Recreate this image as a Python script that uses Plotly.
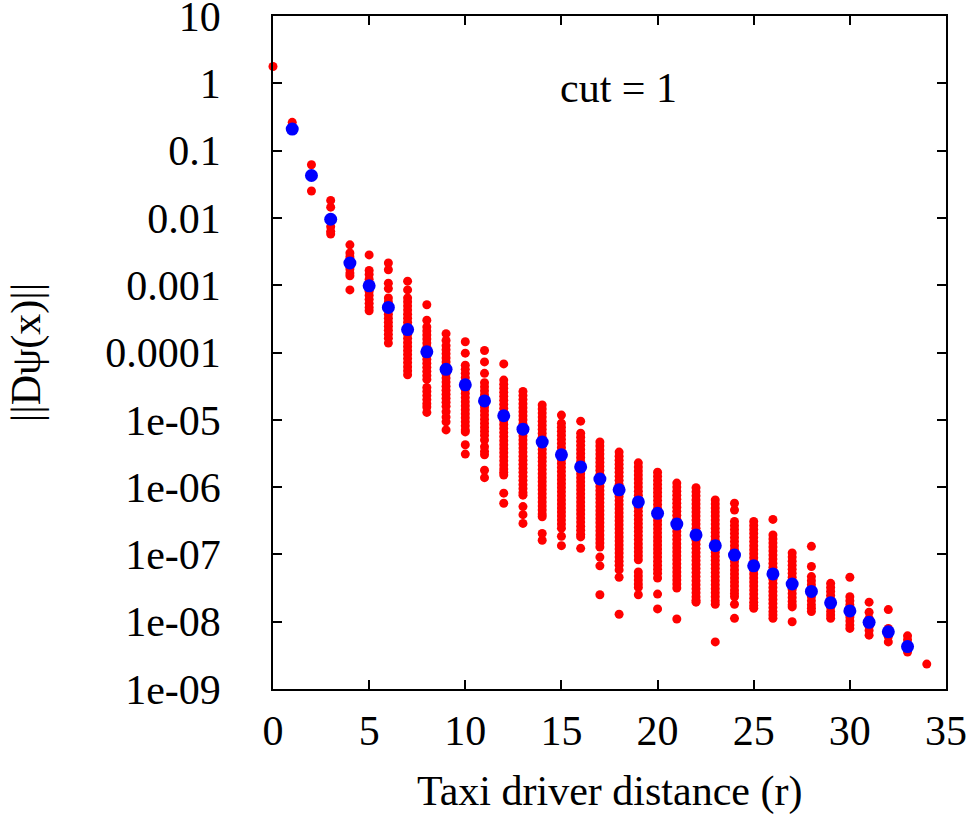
import plotly.graph_objects as go

# Per-distance samples of log10 ||Dpsi(x)|| (red points), one list per distance r
red_r00 = [0.25]
red_r01 = [-0.58, -0.68]
red_r02 = [-1.21, -1.37, -1.60]
red_r03 = [-1.74, -1.84, -2.02, -2.13, -2.20, -2.24]
red_r04 = [-2.40, -2.52, -2.58, -2.64, -2.70, -2.76, -2.82, -2.86, -3.07]
red_r05 = [-2.55, -2.78, -2.84, -2.91, -2.97, -3.03, -3.09, -3.15, -3.21, -3.27, -3.33, -3.38]
red_r06 = [-2.67, -2.77, -2.97, -3.05, -3.19, -3.25, -3.31, -3.37, -3.43, -3.49, -3.55, -3.61,
           -3.67, -3.73, -3.79, -3.86]
red_r07 = [-2.94, -3.07, -3.19, -3.25, -3.31, -3.37, -3.43, -3.49, -3.55, -3.61, -3.67, -3.73,
           -3.79, -3.85, -3.91, -3.97, -4.03, -4.09, -4.15, -4.21, -4.27, -4.33]
red_r08 = [-3.29, -3.52, -3.62, -3.68, -3.74, -3.80, -3.86, -3.92, -3.98, -4.04, -4.10, -4.16,
           -4.22, -4.28, -4.34, -4.40, -4.52, -4.58, -4.64, -4.70, -4.76, -4.81, -4.89]
red_r09 = [-3.72, -3.82, -3.90, -3.96, -4.02, -4.08, -4.14, -4.20, -4.26, -4.32, -4.38, -4.44,
           -4.50, -4.56, -4.62, -4.68, -4.74, -4.80, -4.88, -4.96, -5.03, -5.15]
red_r10 = [-3.84, -4.01, -4.19, -4.25, -4.31, -4.37, -4.43, -4.49, -4.55, -4.61, -4.67, -4.73,
           -4.79, -4.85, -4.91, -4.97, -5.03, -5.09, -5.15, -5.18, -5.37, -5.51]
red_r11 = [-3.97, -4.14, -4.31, -4.45, -4.51, -4.57, -4.63, -4.69, -4.75, -4.81, -4.87, -4.93,
           -4.99, -5.05, -5.11, -5.17, -5.23, -5.30, -5.40, -5.47, -5.52, -5.75, -5.86]
red_r12 = [-4.17, -4.41, -4.47, -4.53, -4.59, -4.65, -4.71, -4.77, -4.83, -4.89, -4.95, -5.01,
           -5.07, -5.13, -5.19, -5.25, -5.31, -5.37, -5.43, -5.49, -5.55, -5.61, -5.67, -5.73,
           -5.78, -5.82, -6.09, -6.24]
red_r13 = [-4.58, -4.64, -4.70, -4.76, -4.82, -4.88, -4.94, -5.00, -5.06, -5.12, -5.18, -5.24,
           -5.30, -5.36, -5.42, -5.48, -5.54, -5.60, -5.66, -5.72, -5.78, -5.84, -5.90, -5.96,
           -6.02, -6.08, -6.12, -6.29, -6.41, -6.54]
red_r14 = [-4.78, -4.84, -4.90, -4.96, -5.02, -5.08, -5.14, -5.20, -5.26, -5.32, -5.38, -5.44,
           -5.50, -5.56, -5.62, -5.68, -5.74, -5.80, -5.86, -5.92, -5.98, -6.04, -6.10, -6.16,
           -6.22, -6.28, -6.34, -6.40, -6.44, -6.69, -6.79]
red_r15 = [-4.93, -5.05, -5.11, -5.17, -5.23, -5.29, -5.35, -5.41, -5.47, -5.53, -5.59, -5.65,
           -5.71, -5.77, -5.83, -5.89, -5.95, -6.01, -6.07, -6.13, -6.19, -6.25, -6.31, -6.37,
           -6.43, -6.49, -6.55, -6.61, -6.73, -6.87]
red_r16 = [-5.02, -5.20, -5.26, -5.32, -5.38, -5.44, -5.50, -5.56, -5.62, -5.68, -5.74, -5.80,
           -5.86, -5.92, -5.98, -6.04, -6.10, -6.16, -6.22, -6.28, -6.34, -6.40, -6.46, -6.52,
           -6.58, -6.64, -6.70, -6.74, -6.91]
red_r17 = [-5.33, -5.39, -5.45, -5.51, -5.57, -5.63, -5.69, -5.75, -5.81, -5.87, -5.93, -5.99,
           -6.05, -6.11, -6.17, -6.23, -6.29, -6.35, -6.41, -6.47, -6.53, -6.59, -6.65, -6.71,
           -6.77, -6.83, -6.89, -7.04, -7.17, -7.60]
red_r18 = [-5.48, -5.54, -5.60, -5.66, -5.72, -5.78, -5.84, -5.90, -5.96, -6.02, -6.08, -6.14,
           -6.20, -6.26, -6.32, -6.38, -6.44, -6.50, -6.56, -6.62, -6.68, -6.74, -6.80, -6.86,
           -6.92, -6.98, -7.04, -7.10, -7.16, -7.23, -7.34, -7.89]
red_r19 = [-5.64, -5.70, -5.76, -5.82, -5.88, -5.94, -6.00, -6.06, -6.12, -6.18, -6.24, -6.30,
           -6.36, -6.42, -6.48, -6.54, -6.60, -6.66, -6.72, -6.78, -6.84, -6.90, -6.96, -7.02,
           -7.08, -7.26, -7.32, -7.38, -7.44, -7.49, -7.60]
red_r20 = [-5.78, -5.84, -5.90, -5.96, -6.02, -6.08, -6.14, -6.20, -6.26, -6.32, -6.38, -6.44,
           -6.50, -6.56, -6.62, -6.68, -6.74, -6.80, -6.86, -6.92, -6.98, -7.04, -7.10, -7.16,
           -7.22, -7.28, -7.35, -7.59, -7.81]
red_r21 = [-5.94, -6.00, -6.06, -6.12, -6.18, -6.24, -6.30, -6.36, -6.42, -6.48, -6.54, -6.60,
           -6.66, -6.72, -6.78, -6.84, -6.90, -6.96, -7.02, -7.08, -7.14, -7.20, -7.26, -7.32,
           -7.38, -7.44, -7.50, -7.96]
red_r22 = [-6.01, -6.07, -6.13, -6.19, -6.25, -6.31, -6.37, -6.43, -6.49, -6.55, -6.61, -6.67,
           -6.73, -6.79, -6.85, -6.91, -6.97, -7.03, -7.09, -7.15, -7.21, -7.27, -7.33, -7.39,
           -7.45, -7.51, -7.57, -7.63, -7.68, -7.71]
red_r23 = [-6.19, -6.25, -6.31, -6.37, -6.43, -6.49, -6.55, -6.61, -6.67, -6.73, -6.79, -6.85,
           -6.91, -6.97, -7.03, -7.09, -7.15, -7.21, -7.27, -7.33, -7.39, -7.45, -7.51, -7.57,
           -7.63, -7.69, -7.74, -8.30]
red_r24 = [-6.24, -6.34, -6.51, -6.57, -6.63, -6.69, -6.75, -6.81, -6.87, -6.93, -6.99, -7.05,
           -7.11, -7.17, -7.23, -7.29, -7.35, -7.41, -7.47, -7.53, -7.58, -7.63, -7.74, -7.95]
red_r25 = [-6.51, -6.57, -6.63, -6.69, -6.75, -6.81, -6.87, -6.93, -6.99, -7.05, -7.11, -7.17,
           -7.23, -7.29, -7.35, -7.41, -7.47, -7.53, -7.59, -7.65, -7.71, -7.76, -7.80]
red_r26 = [-6.48, -6.71, -6.77, -6.83, -6.89, -6.95, -7.01, -7.07, -7.13, -7.19, -7.25, -7.31,
           -7.37, -7.43, -7.49, -7.55, -7.61, -7.67, -7.73, -7.79, -7.85, -7.90, -7.95]
red_r27 = [-6.98, -7.04, -7.10, -7.16, -7.22, -7.28, -7.34, -7.40, -7.46, -7.52, -7.58, -7.64,
           -7.70, -7.75, -7.78, -8.00]
red_r28 = [-6.88, -7.18, -7.33, -7.39, -7.45, -7.51, -7.57, -7.63, -7.69, -7.75, -7.80, -7.85]
red_r29 = [-7.43, -7.49, -7.55, -7.61, -7.67, -7.73, -7.79, -7.85, -7.90, -7.95]
red_r30 = [-7.34, -7.63, -7.69, -7.75, -7.81, -7.87, -7.93, -7.99, -8.05, -8.10]
red_r31 = [-7.71, -7.86, -7.95, -8.01, -8.07, -8.13, -8.20]
red_r32 = [-7.82, -8.10, -8.16, -8.22, -8.30]
red_r33 = [-8.21, -8.27, -8.33, -8.39, -8.45]
red_r34 = [-8.63]

red_columns = [
    red_r00, red_r01, red_r02, red_r03, red_r04, red_r05, red_r06, red_r07, red_r08,
    red_r09, red_r10, red_r11, red_r12, red_r13, red_r14, red_r15, red_r16, red_r17,
    red_r18, red_r19, red_r20, red_r21, red_r22, red_r23, red_r24, red_r25, red_r26,
    red_r27, red_r28, red_r29, red_r30, red_r31, red_r32, red_r33, red_r34,
]

# Average per distance (blue points), log10 values
mean_r = list(range(1, 34))
mean_log = [-0.68, -1.37, -2.02, -2.67, -3.01, -3.33, -3.66, -3.99, -4.25, -4.48,
            -4.72, -4.94, -5.14, -5.33, -5.52, -5.70, -5.88, -6.04, -6.22, -6.39,
            -6.55, -6.71, -6.87, -7.01, -7.17, -7.29, -7.44, -7.55, -7.72, -7.84,
            -8.01, -8.15, -8.37]

# Axis ticks
x_ticks = [0, 5, 10, 15, 20, 25, 30, 35]
y_tick_vals = [10, 1, 0.1, 0.01, 0.001, 0.0001, 1e-5, 1e-6, 1e-7, 1e-8, 1e-9]
y_tick_text = ["10", "1", "0.1", "0.01", "0.001", "0.0001",
               "1e-05", "1e-06", "1e-07", "1e-08", "1e-09"]

red_x, red_y = [], []
for r, col in enumerate(red_columns):
    for e in col:
        red_x.append(r)
        red_y.append(10 ** e)

FONT = "Liberation Serif, Times New Roman, serif"
FS = 42

fig = go.Figure()
fig.add_trace(go.Scatter(
    x=red_x, y=red_y, mode="markers",
    marker=dict(color="rgb(255,0,0)", size=9, line=dict(width=0)),
    cliponaxis=False, showlegend=False, hoverinfo="x+y",
))
fig.add_trace(go.Scatter(
    x=mean_r, y=[10 ** e for e in mean_log], mode="markers",
    marker=dict(color="rgb(0,0,255)", size=13, line=dict(width=0)),
    cliponaxis=False, showlegend=False, hoverinfo="x+y",
))

axis_common = dict(
    showline=True, linecolor="black", linewidth=1.5, mirror="ticks",
    ticks="inside", ticklen=9, tickwidth=1.5, tickcolor="black",
    showgrid=False, zeroline=False, ticklabeloverflow="allow", automargin=False,
    tickfont=dict(family=FONT, size=FS, color="black"),
)

fig.update_xaxes(range=[0, 35], tickvals=x_ticks, ticklabelstandoff=4, **axis_common)
fig.update_yaxes(type="log", range=[-9, 1], tickvals=y_tick_vals, ticktext=y_tick_text,
                 ticklabelstandoff=42, **axis_common)

fig.update_layout(
    width=974, height=816,
    margin=dict(l=273, r=28, t=16, b=127),
    paper_bgcolor="white", plot_bgcolor="white",
    font=dict(family=FONT, color="black"),
    annotations=[
        dict(text="Taxi driver distance (r)", xref="paper", yref="paper",
             x=0.5, y=-0.153, xanchor="center", yanchor="middle",
             showarrow=False, font=dict(family=FONT, size=FS, color="black")),
        dict(text="||Dψ(x)||", xref="paper", yref="paper",
             x=-0.366, y=0.5, xanchor="center", yanchor="middle", textangle=-90,
             showarrow=False, font=dict(family=FONT, size=FS, color="black")),
        dict(text="cut = 1", xref="paper", yref="paper",
             x=0.513, y=0.893, xanchor="center", yanchor="middle",
             showarrow=False, font=dict(family=FONT, size=FS, color="black")),
    ],
)

fig.write_html("out.html")
